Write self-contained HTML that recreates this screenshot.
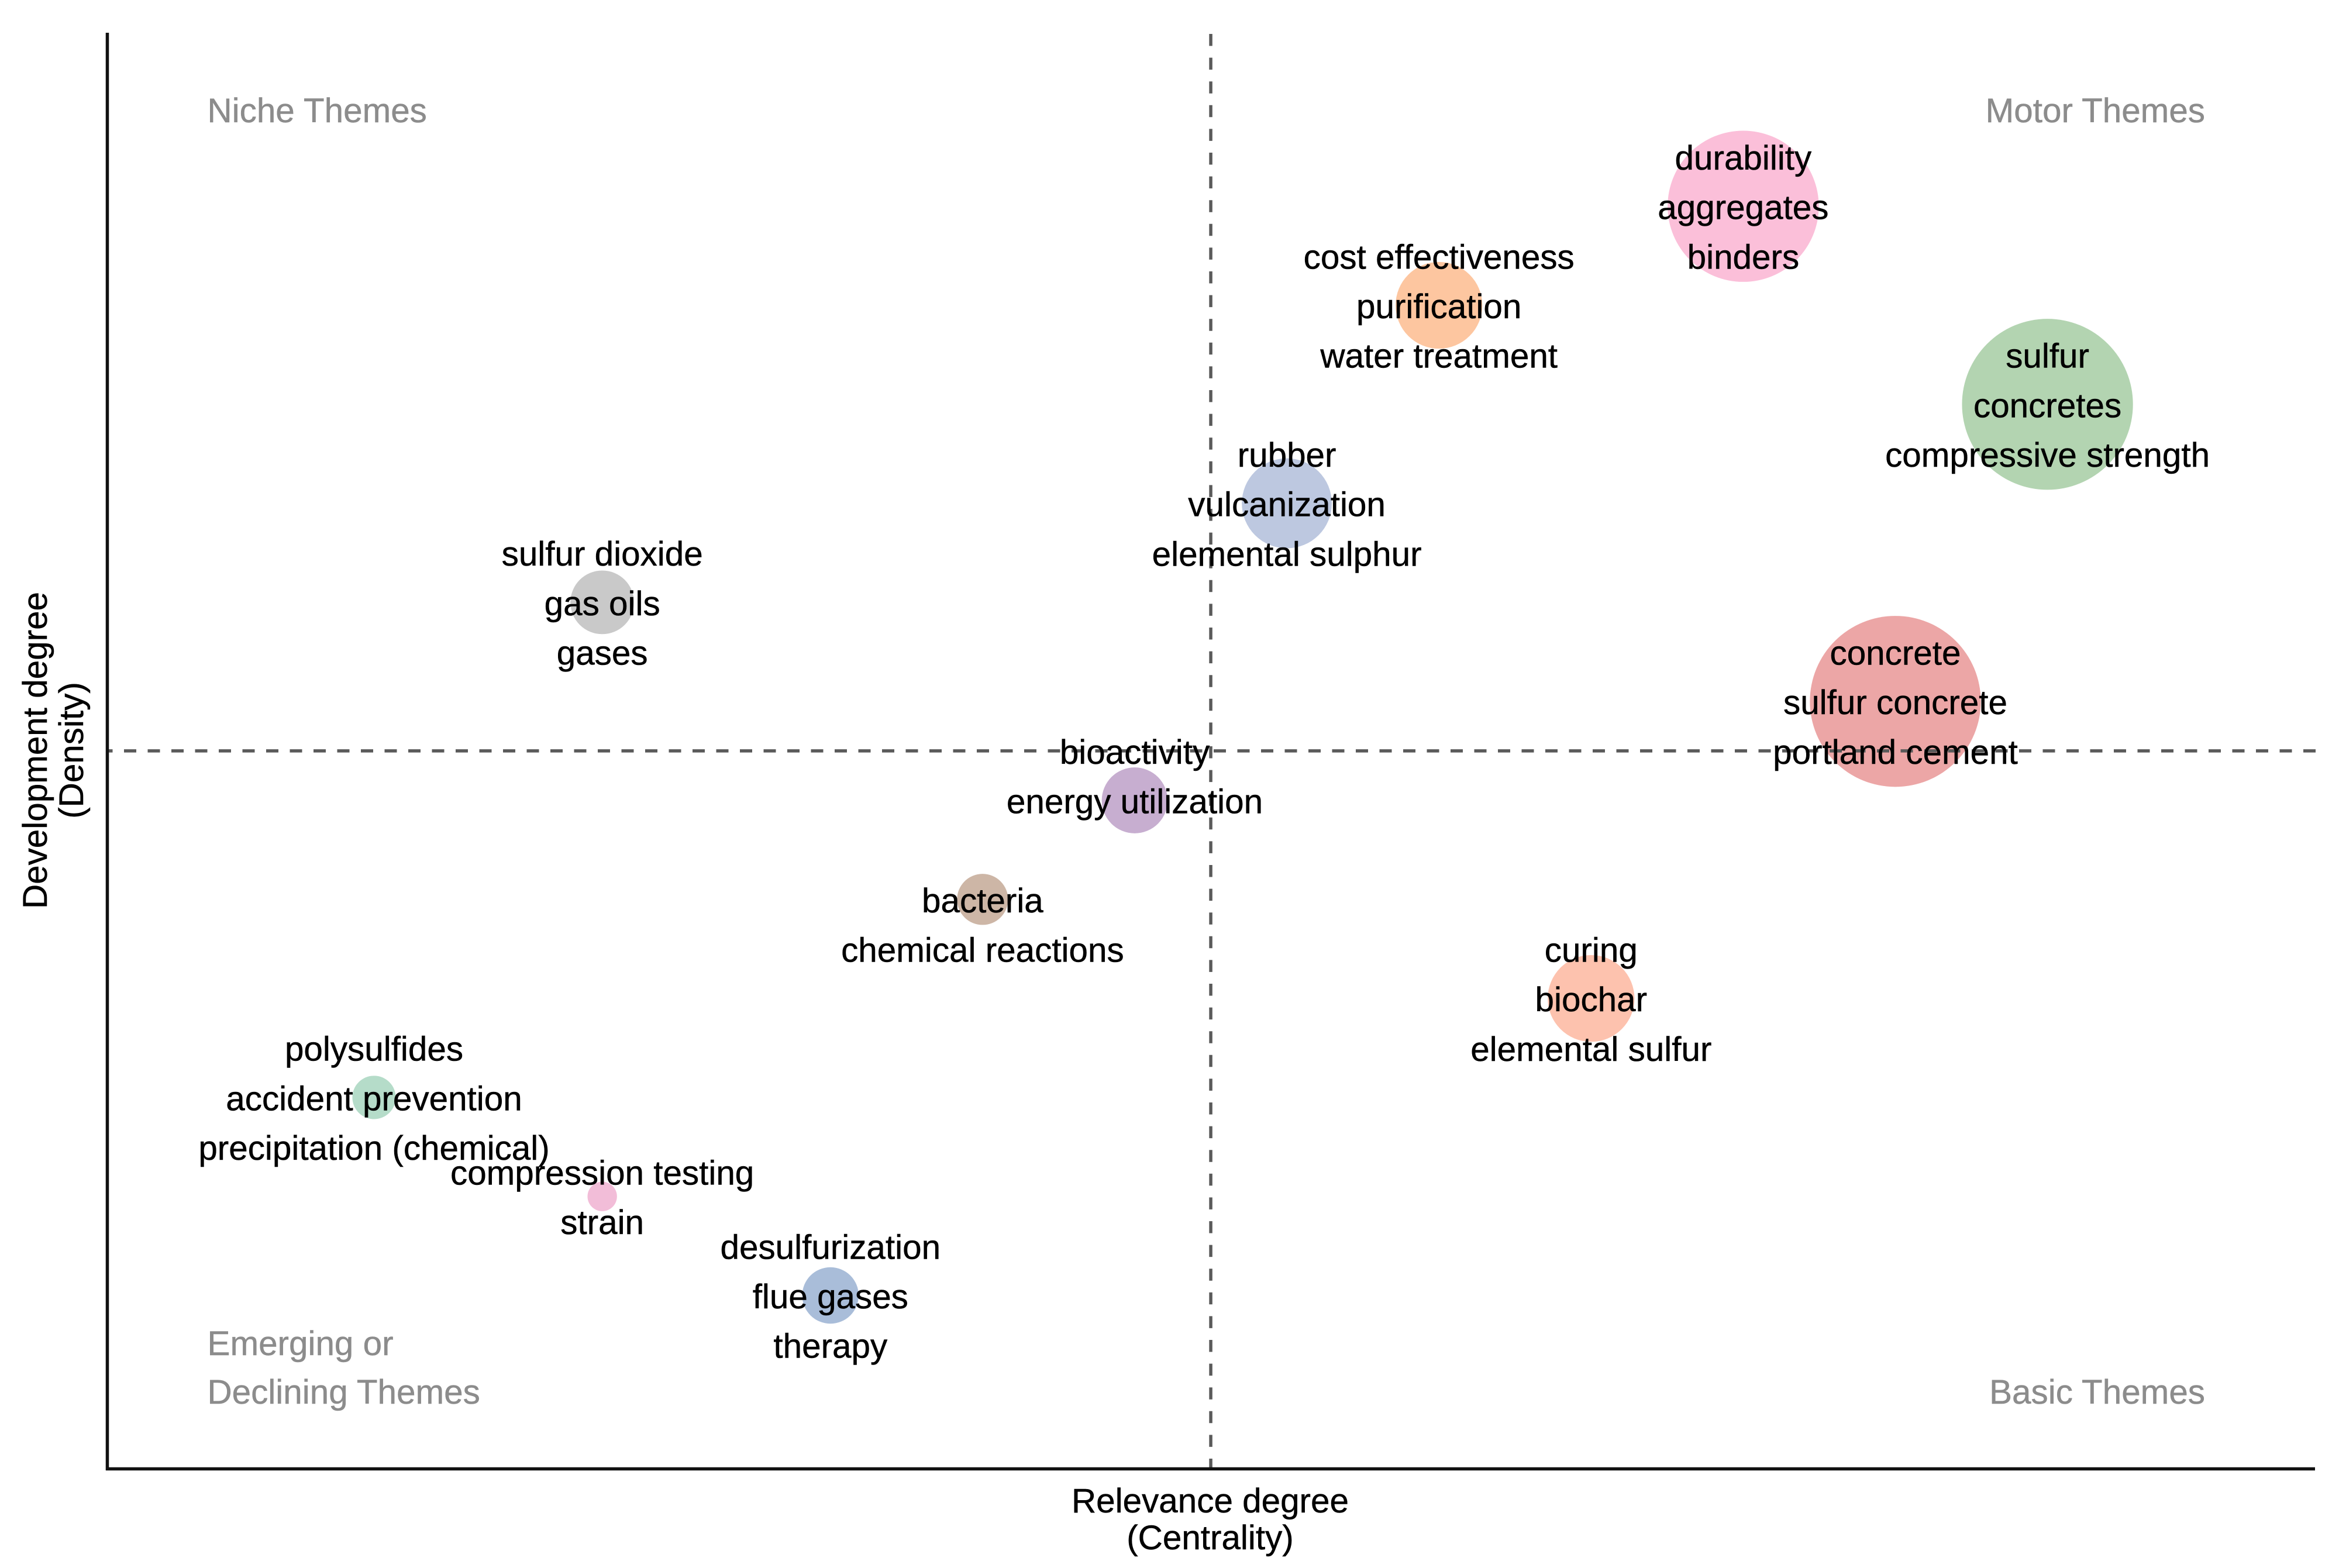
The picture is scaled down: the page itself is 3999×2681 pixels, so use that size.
<!DOCTYPE html>
<html lang="en">
<head>
<meta charset="utf-8">
<title>Thematic map</title>
<style>
html,body{margin:0;padding:0;background:#fff;width:3999px;height:2681px;overflow:hidden}
svg{display:block}
text{font-family:"Liberation Sans",Arial,sans-serif;font-size:58.4px;text-anchor:middle;fill:#000;stroke:#000;stroke-width:0.5px}
text.q{fill:#8c8c8c;stroke:#8c8c8c}
</style>
</head>
<body>
<svg id="chart" xmlns="http://www.w3.org/2000/svg" width="3999" height="2681" viewBox="0 0 3999 2681">
<rect x="0" y="0" width="3999" height="2681" fill="#ffffff"/>
<g id="bubbles"></g>
<g id="refs"></g>
<line x1="183.5" y1="56" x2="183.5" y2="2514" stroke="#111" stroke-width="5.5"/>
<line x1="181" y1="2511.5" x2="3958" y2="2511.5" stroke="#111" stroke-width="5.5"/>
<g id="labels"></g>
<text class="q" x="354.5" y="209" style="text-anchor:start">Niche Themes</text>
<text class="q" x="3770" y="209" style="text-anchor:end">Motor Themes</text>
<text class="q" x="354.5" y="2317" style="text-anchor:start">Emerging or</text>
<text class="q" x="354.5" y="2400" style="text-anchor:start">Declining Themes</text>
<text class="q" x="3770" y="2400" style="text-anchor:end">Basic Themes</text>
<text x="2069" y="2586">Relevance degree</text>
<text x="2069" y="2649">(Centrality)</text>
<text transform="translate(80,1283) rotate(-90)">Development degree</text>
<text transform="translate(142,1283) rotate(-90)">(Density)</text>
</svg>
<script>
// Values: both axes are rank scales (ties share a half rank).
const themes = ["durability","cost-effectiveness","sulfur","rubber","sulfur-dioxide","concrete","bioactivity","bacteria","curing","polysulfides","compression-testing","desulfurization"];
const centrality = [10, 8, 12, 7, 2.5, 11, 6, 5, 9, 1, 2.5, 4];
const density = [12, 11, 10, 9, 8, 7, 6, 5, 4, 3, 2, 1];
const frequency = [79, 26, 101, 28, 14, 101, 15, 9, 26, 6.5, 3, 11];
const colors = ["#fbbfd9","#fdc6a0","#b3d4b1","#bdc8e0","#c9c9c9","#eca6a6","#c7aed0","#cdb6a6","#fdc2ae","#b5dcc9","#f2bdd8","#a9bdd9"];
const terms = [
  ["durability","aggregates","binders"],
  ["cost effectiveness","purification","water treatment"],
  ["sulfur","concretes","compressive strength"],
  ["rubber","vulcanization","elemental sulphur"],
  ["sulfur dioxide","gas oils","gases"],
  ["concrete","sulfur concrete","portland cement"],
  ["bioactivity","energy utilization",""],
  ["","bacteria","chemical reactions"],
  ["curing","biochar","elemental sulfur"],
  ["polysulfides","accident prevention","precipitation (chemical)"],
  ["compression testing","strain"],
  ["desulfurization","flue gases","therapy"]
];
const medianCentrality = 6.5;
const medianDensity = 6.5;

const SVG_NS = "http://www.w3.org/2000/svg";
const xScale = v => 639.5 + (v - 1) * 260.1;
const yScale = v => 2215 - (v - 1) * 169.3;
const rScale = v => 145.4 * Math.sqrt(v / 100);
const LINE_H = 84.7;
const BASE_SHIFT = 22;

const bubblesG = document.getElementById("bubbles");
const labelsG = document.getElementById("labels");
const refsG = document.getElementById("refs");

const vLine = document.createElementNS(SVG_NS, "line");


vLine.setAttribute("x1", xScale(medianCentrality));
vLine.setAttribute("x2", xScale(medianCentrality));
vLine.setAttribute("y1", 58);
vLine.setAttribute("y2", 2509);
vLine.setAttribute("stroke", "#5a5a5a");
vLine.setAttribute("stroke-width", 5.5);
vLine.setAttribute("stroke-dasharray", "20.5 20.1");
refsG.appendChild(vLine);

const hLine = document.createElementNS(SVG_NS, "line");


hLine.setAttribute("x1", 3959);
hLine.setAttribute("x2", 186);
hLine.setAttribute("y1", yScale(medianDensity));
hLine.setAttribute("y2", yScale(medianDensity));
hLine.setAttribute("stroke", "#5a5a5a");
hLine.setAttribute("stroke-width", 5.5);
hLine.setAttribute("stroke-dasharray", "21 19.5");
refsG.appendChild(hLine);

themes.forEach((theme, i) => {
  const cx = xScale(centrality[i]);
  const cy = yScale(density[i]);
  const c = document.createElementNS(SVG_NS, "circle");
  
  
  c.setAttribute("cx", cx);
  c.setAttribute("cy", cy);
  c.setAttribute("r", rScale(frequency[i]));
  c.setAttribute("fill", colors[i]);
  bubblesG.appendChild(c);

  const lines = terms[i];
  const first = -(lines.length - 1) / 2;
  lines.forEach((word, j) => {
    if (!word) return;
    const t = document.createElementNS(SVG_NS, "text");
    
    
    t.setAttribute("x", cx);
    t.setAttribute("y", cy + (first + j) * LINE_H + BASE_SHIFT);
    t.textContent = word;
    labelsG.appendChild(t);
  });
});
</script>
</body>
</html>
